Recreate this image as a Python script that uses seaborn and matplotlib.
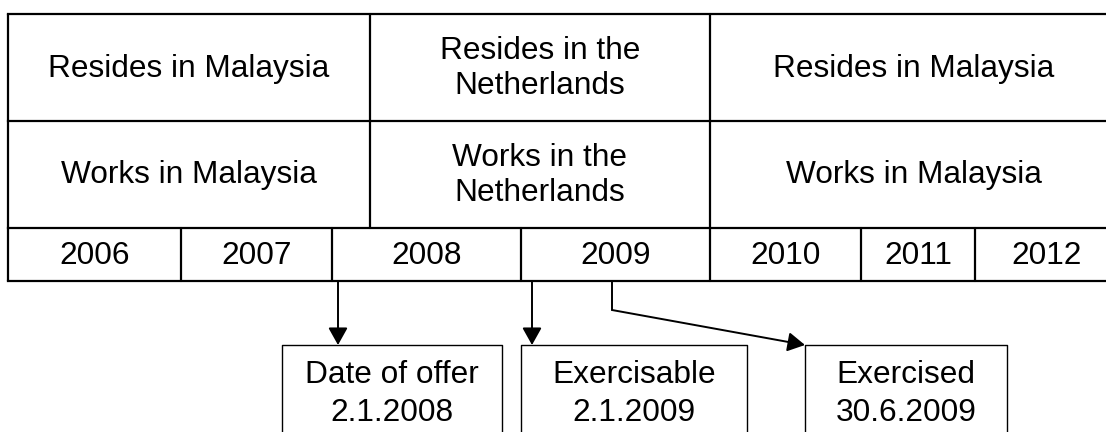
import matplotlib
matplotlib.use("Agg")
import matplotlib.pyplot as plt
import seaborn as sns

# ---- content ----
years = ["2006", "2007", "2008", "2009", "2010", "2011", "2012"]
residence = ["Resides in Malaysia", "Resides in the\nNetherlands", "Resides in Malaysia"]
work = ["Works in Malaysia", "Works in the\nNetherlands", "Works in Malaysia"]
events = ["Date of offer", "Exercisable", "Exercised"]
event_dates = ["2.1.2008", "2.1.2009", "30.6.2009"]

# ---- layout (pixel space of the canvas) ----
W, H = 1106, 432
year_edges = [8, 181, 332, 521, 710, 861, 975, 1118]
period_edges = [8, 370, 710, 1118]
row_edges = [14, 121, 228, 281]
box_x = [(282, 502), (521, 747), (805, 1007)]
box_top, box_bottom = 345, 440
arrow_x = [338, 532, 612]
bend_y = 310

sns.set_theme(style="white")
plt.rcParams["font.family"] = ["Liberation Sans", "DejaVu Sans"]
plt.rcParams["text.color"] = "black"

fig = plt.figure(figsize=(W / 100, H / 100), dpi=100)
ax = fig.add_axes([0, 0, 1, 1])
ax.set_xlim(0, W)
ax.set_ylim(H, 0)
ax.axis("off")

FS = 22.8
TLW = 1.6

# horizontal table lines
for y in row_edges:
    ax.plot([year_edges[0], year_edges[-1]], [y, y], color="black", lw=TLW,
            solid_capstyle="projecting")
# vertical lines of period rows
for x in period_edges:
    ax.plot([x, x], [row_edges[0], row_edges[2]], color="black", lw=TLW)
# vertical lines of year row
for x in year_edges:
    ax.plot([x, x], [row_edges[2], row_edges[3]], color="black", lw=TLW)

# texts
for i, (r, w) in enumerate(zip(residence, work)):
    cx = (period_edges[i] + period_edges[i + 1]) / 2
    ax.text(cx, (row_edges[0] + row_edges[1]) / 2 + 1, r, ha="center", va="center",
            fontsize=FS, linespacing=1.2, color="black")
    ax.text(cx, (row_edges[1] + row_edges[2]) / 2 + 1, w, ha="center", va="center",
            fontsize=FS, linespacing=1.2, color="black")
for i, yr in enumerate(years):
    cx = (year_edges[i] + year_edges[i + 1]) / 2
    ax.text(cx, (row_edges[2] + row_edges[3]) / 2 + 1, yr, ha="center", va="center",
            fontsize=FS, color="black")

# event boxes
for (x0, x1), ev, d in zip(box_x, events, event_dates):
    ax.plot([x0, x0, x1, x1], [box_bottom, box_top, box_top, box_bottom],
            color="black", lw=1.0)
    ax.text((x0 + x1) / 2, 375, ev, ha="center", va="center", fontsize=FS,
            color="black")
    ax.text((x0 + x1) / 2, 413, d, ha="center", va="center", fontsize=FS,
            color="black")

# arrows
aprops = dict(arrowstyle="-|>,head_length=0.5,head_width=0.28", color="black",
              lw=1.4, mutation_scale=21, shrinkA=0, shrinkB=0)
for x in arrow_x[:2]:
    ax.annotate("", xy=(x, box_top), xytext=(x, row_edges[3]), arrowprops=aprops)
ax.plot([arrow_x[2], arrow_x[2]], [row_edges[3], bend_y], color="black", lw=1.4)
ax.annotate("", xy=(box_x[2][0], box_top), xytext=(arrow_x[2], bend_y),
            arrowprops=aprops)

fig.savefig("out.png", dpi=100, facecolor="white")
